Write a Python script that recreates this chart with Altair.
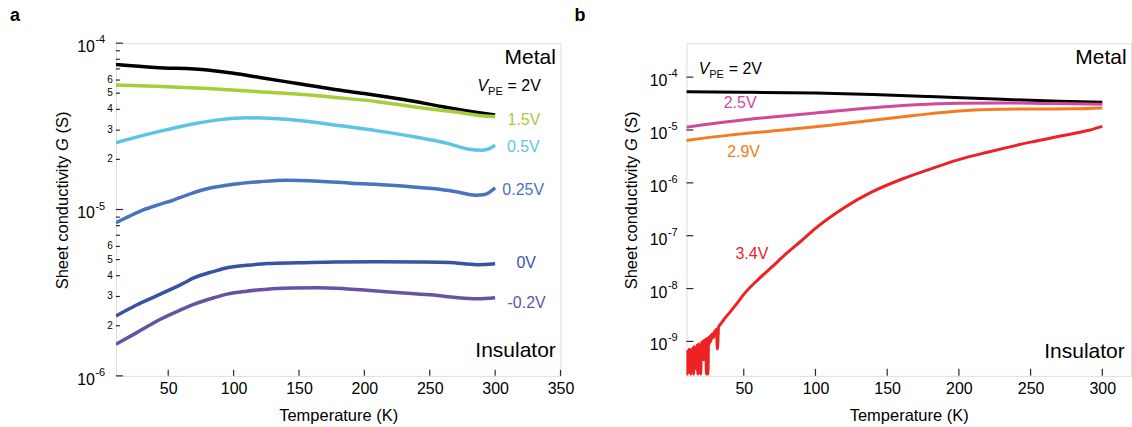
import altair as alt
import pandas as pd

FONT = "Liberation Sans"
INK = "#2b2b2b"

# ---------------- panel a data ----------------
a_names = ["2V", "1.5V", "0.5V", "0.25V", "0V", "-0.2V"]
a_colors = ["#000000", "#a6ce39", "#5bc5e6", "#4a72be", "#3753a4", "#6a52a3"]

a_T_2V = [10, 40, 80, 100, 120, 150, 175, 200, 230, 260, 285, 300]
a_G_2V = [7.45e-5, 7.15e-5, 6.9e-5, 6.6e-5, 6.22e-5, 5.7e-5, 5.3e-5, 4.98e-5, 4.58e-5, 4.15e-5, 3.85e-5, 3.7e-5]
a_T_15 = [10, 40, 80, 120, 150, 180, 210, 240, 270, 290, 300]
a_G_15 = [5.6e-5, 5.5e-5, 5.33e-5, 5.1e-5, 4.93e-5, 4.7e-5, 4.45e-5, 4.12e-5, 3.85e-5, 3.66e-5, 3.62e-5]
a_T_05 = [10, 30, 50, 70, 90, 110, 130, 150, 180, 210, 240, 265, 280, 290, 296, 300]
a_G_05 = [2.52e-5, 2.78e-5, 3.03e-5, 3.28e-5, 3.47e-5, 3.56e-5, 3.52e-5, 3.43e-5, 3.2e-5, 2.97e-5, 2.72e-5, 2.48e-5, 2.3e-5, 2.27e-5, 2.33e-5, 2.44e-5]
a_T_025 = [10, 20, 31, 43, 54, 68, 83, 100, 120, 140, 165, 190, 220, 250, 270, 285, 292, 300]
a_G_025 = [8.33e-6, 9.1e-6, 9.95e-6, 1.07e-5, 1.14e-5, 1.25e-5, 1.35e-5, 1.42e-5, 1.47e-5, 1.5e-5, 1.48e-5, 1.44e-5, 1.4e-5, 1.34e-5, 1.28e-5, 1.22e-5, 1.23e-5, 1.35e-5]
a_T_0 = [10, 25, 44, 60, 70, 85, 95, 110, 126, 150, 177, 210, 240, 265, 286, 300]
a_G_0 = [2.29e-6, 2.65e-6, 3.1e-6, 3.55e-6, 3.89e-6, 4.25e-6, 4.47e-6, 4.62e-6, 4.73e-6, 4.78e-6, 4.84e-6, 4.86e-6, 4.84e-6, 4.8e-6, 4.66e-6, 4.72e-6]
a_T_m02 = [10, 25, 44, 60, 70, 85, 95, 110, 126, 145, 164, 185, 202, 230, 253, 270, 286, 300]
a_G_m02 = [1.55e-6, 1.8e-6, 2.19e-6, 2.5e-6, 2.7e-6, 2.95e-6, 3.1e-6, 3.23e-6, 3.32e-6, 3.37e-6, 3.39e-6, 3.34e-6, 3.27e-6, 3.15e-6, 3.06e-6, 2.96e-6, 2.91e-6, 2.95e-6]

a_label_text = ["1.5V", "0.5V", "0.25V", "0V", "-0.2V"]
a_label_T = [309.5, 309.0, 305.5, 316.3, 309.5]
a_label_G = [3.45e-5, 2.37e-5, 1.31e-5, 4.74e-6, 2.76e-6]

a_xticks = [50, 100, 150, 200, 250, 300, 350]
a_y_major = [1e-6, 1e-5, 1e-4]
a_y_major_exp = ["-6", "-5", "-4"]
a_y_minor_lab = [2e-6, 3e-6, 4e-6, 5e-6, 6e-6, 2e-5, 3e-5, 4e-5, 5e-5, 6e-5]
a_y_minor_text = ["2", "3", "4", "5", "6", "2", "3", "4", "5", "6"]
a_y_minor_all = [2e-6, 3e-6, 4e-6, 5e-6, 6e-6, 7e-6, 8e-6, 9e-6,
                 2e-5, 3e-5, 4e-5, 5e-5, 6e-5, 7e-5, 8e-5, 9e-5]

# ---------------- panel b data ----------------
b_names = ["2V", "2.5V", "2.9V", "3.4V"]
b_colors = ["#000000", "#d1499b", "#f37b21", "#ee2124"]

b_T_2V = [10, 50, 100, 140, 180, 230, 270, 300]
b_G_2V = [5.3e-5, 5.2e-5, 5.0e-5, 4.7e-5, 4.3e-5, 3.8e-5, 3.5e-5, 3.35e-5]
b_T_25 = [10, 40, 70, 100, 140, 170, 200, 230, 260, 300]
b_G_25 = [1.13e-5, 1.45e-5, 1.77e-5, 2.1e-5, 2.65e-5, 3.0e-5, 3.2e-5, 3.25e-5, 3.18e-5, 3.08e-5]
b_T_29 = [10, 40, 70, 100, 140, 170, 200, 220, 250, 280, 300]
b_G_29 = [6.35e-6, 8.0e-6, 9.6e-6, 1.15e-5, 1.53e-5, 1.9e-5, 2.3e-5, 2.45e-5, 2.5e-5, 2.52e-5, 2.62e-5]
b_T_34 = [10, 10.25, 10.5, 10.75, 11, 11.25, 11.5, 11.75, 12, 12.5, 13, 13.25, 13.5, 14, 14.5,
          15, 15.5, 16, 16.5, 17, 17.5, 18, 18.5, 19, 19.5, 20, 20.5, 21, 21.5, 22, 22.5,
          23, 23.5, 24, 24.5, 25, 25.5, 26, 26.5, 27, 27.5, 28, 28.5, 29, 29.5, 30, 31,
          31.6, 32.5, 34, 36,
          40, 45, 50, 60, 68.5, 80, 90, 100, 120, 138, 160, 180, 200, 220, 250, 270, 290, 300]
b_G_34 = [3e-10, 6.5e-10, 2.4e-10, 6e-10, 3e-10, 5.5e-10, 2.6e-10, 7e-10, 3.5e-10, 7e-10,
          2.4e-10, 6e-10, 6.5e-10, 4e-10, 7.5e-10,
          2.4e-10, 8e-10, 5e-10, 7e-10, 3e-10, 8.5e-10, 2.4e-10, 9e-10, 6e-10, 8e-10,
          2.4e-10, 9.5e-10, 7e-10, 1.0e-9, 4.5e-10, 1.05e-9, 8e-10, 1.1e-9, 2.4e-10, 1.15e-9,
          2.4e-10, 1.2e-9, 9e-10, 1.25e-9, 1.0e-9, 1.35e-9, 1.15e-9, 1.4e-9, 1.2e-9, 1.5e-9,
          1.55e-9, 1.7e-9, 7.2e-10, 1.9e-9, 2.15e-9, 2.57e-9,
          3.47e-9, 5.13e-9, 7.76e-9, 1.48e-8, 2.4e-8, 4.68e-8, 7.94e-8, 1.38e-7, 3.39e-7,
          6.46e-7, 1.17e-6, 1.82e-6, 2.75e-6, 3.8e-6, 5.89e-6, 7.59e-6, 9.77e-6, 1.17e-5]

b_label_text = ["2.5V", "2.9V", "3.4V"]
b_label_T = [36.0, 38.4, 44.2]
b_label_G = [3.27e-5, 3.86e-6, 4.6e-8]

b_xticks = [50, 100, 150, 200, 250, 300]
b_y_major = [1e-9, 1e-8, 1e-7, 1e-6, 1e-5, 1e-4]
b_y_major_exp = ["-9", "-8", "-7", "-6", "-5", "-4"]

# corner annotations (anchor in data units)
a_metal = (346.4, 7.48e-5)
a_insul = (346.4, 1.29e-6)
a_vpe = (286.6, 5.15e-5)
b_metal = (316.9, 1.76e-4)
b_insul = (315.6, 4.94e-10)
b_vpe = (18.6, 1.125e-4)

# y-axis title pieces (rich text: italic G)
ytitle_parts = ["Sheet conductivity", "G", "(S)"]

W, H = 445, 333
TITLE_SIZE = 16.5


def series_df(names, Ts, Gs):
    rows = []
    for n, T, G in zip(names, Ts, Gs):
        for t, g in zip(T, G):
            rows.append({"series": n, "T": t, "G": g})
    return pd.DataFrame(rows)


def x_axis(ticks):
    return alt.Axis(values=ticks, title="Temperature (K)", ticks=False, domain=False, grid=False,
                    labelFontSize=16, labelPadding=5, labelFont=FONT, labelColor="black",
                    labelFlush=False, labelOverlap=False,
                    titleFont=FONT, titleFontSize=TITLE_SIZE, titleFontWeight="normal",
                    titleColor="black", titleY=40, titleBaseline="middle")


def y_ticks(vals, ysc, length):
    return alt.Chart(pd.DataFrame({"G": vals})).mark_rule(color=INK, strokeWidth=1.2).encode(
        y=alt.Y("G:Q", scale=ysc), x=alt.value(0), x2=alt.value(length))


def x_ticks(vals, xsc, length):
    return alt.Chart(pd.DataFrame({"T": vals})).mark_rule(color=INK, strokeWidth=1.2).encode(
        x=alt.X("T:Q", scale=xsc), y=alt.value(H), y2=alt.value(H - length))


def decade_labels(vals, exps, ysc, edge):
    d = pd.DataFrame({"G": vals, "base": ["10"] * len(vals), "exp": exps})
    base = alt.Chart(d).mark_text(align="right", baseline="middle", fontSize=16, font=FONT,
                                  dy=4, color="black").encode(
        y=alt.Y("G:Q", scale=ysc), x=alt.value(edge), text="base:N")
    exp = alt.Chart(d).mark_text(align="left", baseline="middle", fontSize=11, font=FONT,
                                 dy=-3, dx=0.5, color="black").encode(
        y=alt.Y("G:Q", scale=ysc), x=alt.value(edge), text="exp:N")
    return [base, exp]


def minor_labels(vals, texts, ysc):
    d = pd.DataFrame({"G": vals, "txt": texts})
    return alt.Chart(d).mark_text(align="right", baseline="middle", fontSize=10, font=FONT,
                                  color="black").encode(
        y=alt.Y("G:Q", scale=ysc), x=alt.value(-3), text="txt:N")


def panel_letter(letter, xpos):
    return alt.Chart(pd.DataFrame({"txt": [letter]})).mark_text(
        align="left", baseline="top", fontSize=18, fontWeight="bold", font=FONT,
        color="black").encode(x=alt.value(xpos), y=alt.value(-36), text="txt:N")


def y_title(xpos, ycenter):
    # piece widths at 16px (Arial metrics): 129.8, space 4.45, 12.45, space 4.45, 21.3
    k = TITLE_SIZE / 16.0
    start = -86.2 * k
    offs = [start, start + 134.3 * k, start + 151.2 * k]
    styles = ["normal", "italic", "normal"]
    layers = []
    for txt, off, st in zip(ytitle_parts, offs, styles):
        layers.append(alt.Chart(pd.DataFrame({"txt": [txt]})).mark_text(
            align="left", baseline="middle", fontSize=TITLE_SIZE, font=FONT, fontStyle=st,
            angle=270, dx=off, color="black").encode(
            x=alt.value(xpos), y=alt.value(ycenter), text="txt:N"))
    return layers


def corner_texts(xsc, ysc, metal, insul, vpe):
    layers = []
    for txt, (t, g) in (("Metal", metal), ("Insulator", insul)):
        layers.append(alt.Chart(pd.DataFrame({"T": [t], "G": [g], "txt": [txt]})).mark_text(
            align="right", baseline="alphabetic", fontSize=21, font=FONT, color="black").encode(
            x=alt.X("T:Q", scale=xsc), y=alt.Y("G:Q", scale=ysc), text="txt:N"))
    t, g = vpe
    d = pd.DataFrame({"T": [t], "G": [g]})
    layers.append(alt.Chart(d.assign(txt="V")).mark_text(
        align="left", baseline="alphabetic", fontSize=16, font=FONT, fontStyle="italic",
        color="black").encode(x=alt.X("T:Q", scale=xsc), y=alt.Y("G:Q", scale=ysc), text="txt:N"))
    layers.append(alt.Chart(d.assign(txt="PE")).mark_text(
        align="left", baseline="alphabetic", fontSize=11, font=FONT, dx=10.5, dy=4,
        color="black").encode(x=alt.X("T:Q", scale=xsc), y=alt.Y("G:Q", scale=ysc), text="txt:N"))
    layers.append(alt.Chart(d.assign(txt="= 2V")).mark_text(
        align="left", baseline="alphabetic", fontSize=16, font=FONT, dx=30,
        color="black").encode(x=alt.X("T:Q", scale=xsc), y=alt.Y("G:Q", scale=ysc), text="txt:N"))
    return layers


# ---------------- panel a ----------------
a_xsc = alt.Scale(domain=[10, 350], nice=False, zero=False)
a_ysc = alt.Scale(type="log", domain=[1e-6, 1e-4], nice=False)
a_csc = alt.Scale(domain=a_names, range=a_colors)

a_df = series_df(a_names, [a_T_2V, a_T_15, a_T_05, a_T_025, a_T_0, a_T_m02],
                 [a_G_2V, a_G_15, a_G_05, a_G_025, a_G_0, a_G_m02])

a_lines = alt.Chart(a_df).mark_line(strokeWidth=3.5, clip=True, interpolate="monotone").encode(
    x=alt.X("T:Q", scale=a_xsc, axis=x_axis(a_xticks)),
    y=alt.Y("G:Q", scale=a_ysc, axis=None),
    color=alt.Color("series:N", scale=a_csc, legend=None),
)

a_lab = alt.Chart(pd.DataFrame({"T": a_label_T, "G": a_label_G, "series": a_label_text})).mark_text(
    align="left", baseline="middle", fontSize=16, font=FONT).encode(
    x=alt.X("T:Q", scale=a_xsc), y=alt.Y("G:Q", scale=a_ysc), text="series:N",
    color=alt.Color("series:N", scale=a_csc, legend=None))

panel_a = alt.layer(
    a_lines,
    y_ticks(a_y_major, a_ysc, 7),
    y_ticks(a_y_minor_all, a_ysc, 4),
    x_ticks(a_xticks, a_xsc, 6),
    a_lab,
    *decade_labels(a_y_major, a_y_major_exp, a_ysc, -21),
    minor_labels(a_y_minor_lab, a_y_minor_text, a_ysc),
    *corner_texts(a_xsc, a_ysc, a_metal, a_insul, a_vpe),
    *y_title(-53, H / 2 - 9),
    panel_letter("a", -106),
).properties(width=W, height=H)

# ---------------- panel b ----------------
b_xsc = alt.Scale(domain=[10, 320], nice=False, zero=False)
b_ysc = alt.Scale(type="log", domain=[2.23e-10, 4.4e-4], nice=False)
b_csc = alt.Scale(domain=b_names, range=b_colors)

b_df = series_df(b_names, [b_T_2V, b_T_25, b_T_29, b_T_34], [b_G_2V, b_G_25, b_G_29, b_G_34])

b_lines = alt.Chart(b_df).mark_line(strokeWidth=3, clip=True, interpolate="monotone").encode(
    x=alt.X("T:Q", scale=b_xsc, axis=x_axis(b_xticks)),
    y=alt.Y("G:Q", scale=b_ysc, axis=None),
    color=alt.Color("series:N", scale=b_csc, legend=None),
)

b_lab = alt.Chart(pd.DataFrame({"T": b_label_T, "G": b_label_G, "series": b_label_text})).mark_text(
    align="left", baseline="middle", fontSize=16, font=FONT).encode(
    x=alt.X("T:Q", scale=b_xsc), y=alt.Y("G:Q", scale=b_ysc), text="series:N",
    color=alt.Color("series:N", scale=b_csc, legend=None))

panel_b = alt.layer(
    b_lines,
    y_ticks(b_y_major, b_ysc, 7),
    x_ticks(b_xticks, b_xsc, 7),
    b_lab,
    *decade_labels(b_y_major, b_y_major_exp, b_ysc, -19),
    *corner_texts(b_xsc, b_ysc, b_metal, b_insul, b_vpe),
    *y_title(-54, H / 2 - 9),
    panel_letter("b", -112),
).properties(width=W, height=H)

chart = alt.hconcat(panel_a, panel_b, spacing=126, bounds="flush").resolve_scale(
    x="independent", y="independent", color="independent"
).properties(
    padding={"left": 9, "top": 6, "right": 0, "bottom": 0},
    background="white",
).configure_view(stroke=INK, strokeWidth=1.5).configure(font=FONT)

chart.save("out.html", embed_options={"renderer": "svg", "actions": False})
